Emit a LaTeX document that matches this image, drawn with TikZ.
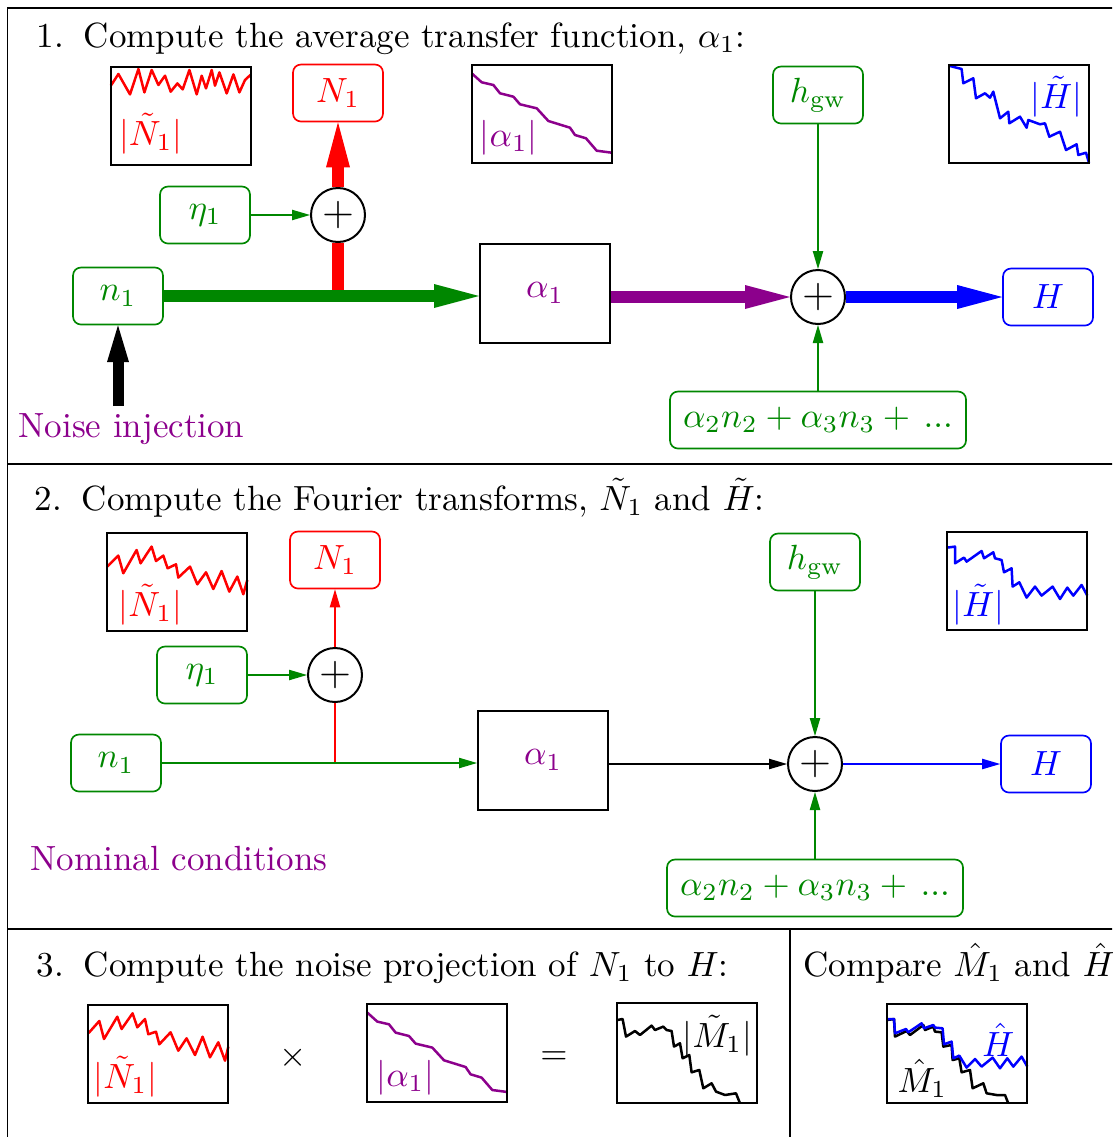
\RequirePackage{fix-cm}
\documentclass[tikz,border=0pt]{standalone}
\usetikzlibrary{arrows.meta}
\definecolor{grn}{RGB}{0,135,0}
\definecolor{pur}{RGB}{140,0,140}
\tikzset{
 every node/.style={font=\fontsize{10.5}{12.6}\selectfont},
 gbox/.style={draw=grn, text=grn, rounded corners=2.4pt, line width=0.5pt, minimum width=27pt, minimum height=17.1pt, inner sep=0pt},
 rbox/.style={gbox, draw=red, text=red},
 bbox/.style={gbox, draw=blue, text=blue},
 widebox/.style={gbox, minimum width=88.8pt},
 sumnode/.style={circle, draw, fill=white, line width=0.6pt, minimum size=16.2pt, inner sep=0pt, font=\fontsize{12.6}{12.6}\selectfont},
 abox/.style={draw, line width=0.6pt, minimum width=39pt, minimum height=29.7pt, text=pur},
 thickarrow/.style={line width=3.6pt, -{Triangle[length=13.5pt,width=7.2pt,line width=0pt]}},
 thickline/.style={line width=3.6pt},
 thinarrow/.style={line width=0.45pt, -{Triangle[length=5.4pt,width=3.2pt,line width=0pt]}},
 frameline/.style={line width=0.6pt},
 plotframe/.style={line width=0.65pt},
 curve/.style={line width=0.75pt, line join=round},
 titletext/.style={anchor=base west, inner sep=0pt},
 plotlabel/.style={anchor=base, inner sep=0pt},
}
\begin{document}
\begin{tikzpicture}[x=0.3pt, y=-0.3pt]
\useasboundingbox (0,0) rectangle (1112,1137);
\clip (0,0) rectangle (1112,1137);
% frame
\draw[frameline] (7.5,1150) -- (7.5,7.5) -- (1130,7.5);
\draw[frameline] (7.5,464) -- (1130,464);
\draw[frameline] (7.5,928.5) -- (1130,928.5);
\draw[frameline] (790,928.5) -- (790,1150);

% ---------- Panel 1 ----------
\node[titletext] (t1) at (36,47) {1.\hspace{6pt}Compute the average transfer function, $\alpha_1$:};

\begin{scope}[shift={(110.7,66.7)}]
\draw[curve, red] (0,19) -- (1,17.7) -- (7.7,7.3) -- (19.3,27.7) -- (27.7,2.3) -- (33.7,25.7) -- (41,3.3) -- (47.7,18.3) -- (54.3,9) -- (60,25) -- (66.7,16.7) -- (72,22.7) -- (78.7,3.3) -- (86,27.7) -- (91,9) -- (95.3,21.7) -- (101,3.3) -- (104.3,19) -- (108.7,5.7) -- (116,26.7) -- (122.7,7.7) -- (128.7,25.7) -- (134.3,13.3) -- (140,8);
\draw[plotframe] (0,0) rectangle (140,98);
\node[plotlabel, text=red] (lN1a) at (40,79) {$|\tilde{N}_1|$};
\end{scope}

\begin{scope}[shift={(471.7,65)}]
\draw[curve, pur] (0,8.3) -- (10,17.3) -- (21.7,20) -- (28.3,28.3) -- (41.7,31.7) -- (48.3,39.3) -- (65,43.3) -- (76.7,56) -- (98.3,62.7) -- (103.3,70) -- (114.3,73.3) -- (125,85.7) -- (140,87.7);
\draw[plotframe] (0,0) rectangle (140,98);
\node[plotlabel, text=pur] (la1a) at (37,81) {$|\alpha_1|$};
\end{scope}

\begin{scope}[shift={(949.3,65)}]
\draw[curve, blue] (0.7,1) -- (12.3,4) -- (14,18.3) -- (24,13.3) -- (26.7,33.3) -- (35.7,28.3) -- (40.7,32.7) -- (44,26.7) -- (50.7,53.3) -- (59,46.7) -- (60,58.3) -- (70.7,51.7) -- (77.3,62.7) -- (79,55) -- (90.7,59.3) -- (95.7,58.3) -- (100,71.7) -- (110.7,66.7) -- (116.7,85) -- (127.3,79.3) -- (129,90) -- (136.7,87.7) -- (139.7,98);
\draw[plotframe] (0,0) rectangle (140,98);
\node[plotlabel, text=blue] (lHa) at (107,43) {$|\tilde{H}|$};
\end{scope}

\node[rbox] (N1a) at (338,93) {$N_1$};
\node[gbox] (hgwa) at (818,95) {$h_{\mathrm{gw}}$};
\node[gbox] (eta1a) at (205,215) {$\eta_1$};
\node[sumnode] (s1a) at (338,215) {$+$};
\node[gbox] (n1a) at (118,296) {$n_1$};
\node[abox] (a1a) at (545,293) {$\alpha_1$};
\node[sumnode] (s2a) at (818,297) {$+$};
\node[bbox] (Ha) at (1048,297) {$H$};
\node[widebox] (resta) at (818,420) {$\alpha_2n_2+\alpha_3n_3+\,...$};
\coordinate (ja) at (338,296);
\coordinate (nia) at (118,406);
\node[titletext, text=pur] (noise) at (18,437) {Noise injection};

\draw[thickline, red] (ja) -- (s1a.south);
\draw[thickarrow, red] (s1a.north) -- (N1a.south);
\draw[thickarrow, grn] (n1a.east) -- (n1a -| a1a.west);
\draw[thickarrow, pur] (s2a -| a1a.east) -- (s2a.west);
\draw[thickarrow, blue] (s2a.east) -- (s2a -| Ha.west);
\draw[line width=3.3pt, -{Triangle[length=11pt,width=6.6pt,line width=0pt]}] (nia) -- (n1a.south);
\draw[thinarrow, grn] (eta1a.east) -- (s1a.west);
\draw[thinarrow, grn] (hgwa.south) -- (s2a.north);
\draw[thinarrow, grn] (resta.north) -- (s2a.south);

% ---------- Panel 2 ----------
\node[titletext] (t2) at (34,510) {2.\hspace{6pt}Compute the Fourier transforms, $\tilde{N}_1$ and $\tilde{H}$:};

\begin{scope}[shift={(107.3,533.3)}]
\draw[curve, red] (0,33.3) -- (11,22.3) -- (16,40) -- (29.3,16.7) -- (33.3,30) -- (44.3,13.3) -- (48.7,27.7) -- (56,22.3) -- (60.3,35) -- (68.7,31) -- (71,44.3) -- (82.7,33.3) -- (90,51) -- (98.7,39) -- (106,55.7) -- (114.3,37.7) -- (122,58.3) -- (130,43.3) -- (136,61) -- (140,46.7);
\draw[plotframe] (0,0) rectangle (140,98);
\node[plotlabel, text=red] (lN1b) at (43,83) {$|\tilde{N}_1|$};
\end{scope}

\begin{scope}[shift={(947.3,532.3)}]
\draw[curve, blue] (0,15.3) -- (7.7,14.3) -- (7.7,31) -- (16.7,25.3) -- (19.3,29.3) -- (34.3,18.7) -- (36.7,26) -- (46,20) -- (47.7,26) -- (54.3,27.7) -- (56.7,40) -- (64.3,36) -- (65.3,54.3) -- (72,50) -- (79.3,65.3) -- (87.7,54.3) -- (94.3,63.3) -- (105.3,54.3) -- (112.7,66.7) -- (120,55.3) -- (126,63.3) -- (134.3,52.7) -- (140,63.3);
\draw[plotframe] (0,0) rectangle (140,98);
\node[plotlabel, text=blue] (lHb) at (31,84) {$|\tilde{H}|$};
\end{scope}

\node[rbox] (N1b) at (335,560) {$N_1$};
\node[gbox] (hgwb) at (815,562) {$h_{\mathrm{gw}}$};
\node[gbox] (eta1b) at (202,675) {$\eta_1$};
\node[sumnode] (s1b) at (335,675) {$+$};
\node[gbox] (n1b) at (116,763) {$n_1$};
\node[abox] (a1b) at (543,760) {$\alpha_1$};
\node[sumnode] (s2b) at (815,764) {$+$};
\node[bbox] (Hb) at (1046,764) {$H$};
\node[widebox] (restb) at (815,888) {$\alpha_2n_2+\alpha_3n_3+\,...$};
\coordinate (jb) at (335,764);
\node[titletext, text=pur] (nominal) at (30,870) {Nominal conditions};

\draw[line width=0.45pt, red] (jb) -- (s1b.south);
\draw[thinarrow, red] (s1b.north) -- (N1b.south);
\draw[thinarrow, grn] (n1b.east) -- (n1b.east -| a1b.west);
\draw[thinarrow, black] (s2b -| a1b.east) -- (s2b.west);
\draw[thinarrow, blue] (s2b.east) -- (s2b -| Hb.west);
\draw[thinarrow, grn] (eta1b.east) -- (s1b.west);
\draw[thinarrow, grn] (hgwb.south) -- (s2b.north);
\draw[thinarrow, grn] (restb.north) -- (s2b.south);

% ---------- Panel 3 ----------
\node[titletext] (t3) at (36,976) {3.\hspace{6pt}Compute the noise projection of $N_1$ to $H$:};
\node[titletext] (t4) at (803,976) {Compare $\hat{M}_1$ and $\hat{H}$};

\begin{scope}[shift={(88.3,1005)}]
\draw[curve, red] (0,28) -- (1,27.3) -- (11,16) -- (15.7,34) -- (29,11.7) -- (33.3,24) -- (44.3,8.3) -- (49,22.3) -- (56.7,14) -- (60,29.3) -- (67.7,26.7) -- (71,39.3) -- (82.3,27.3) -- (90,45.7) -- (98.3,33.3) -- (106.7,50) -- (114.3,31.7) -- (121.7,52.3) -- (130,37.3) -- (136.7,55.7) -- (140,41.7);
\draw[plotframe] (0,0) rectangle (140,98);
\node[plotlabel, text=red] (lN1c) at (37,83) {$|\tilde{N}_1|$};
\end{scope}

\node (times) at (293,1058) {$\times$};

\begin{scope}[shift={(367.3,1004.3)}]
\draw[curve, pur] (0,8.3) -- (10,17.3) -- (21.7,20) -- (28.3,28.3) -- (41.7,31.7) -- (48.3,39.3) -- (65,43.3) -- (76.7,56) -- (98.3,62.7) -- (103.3,70) -- (114.3,73.3) -- (125,85.7) -- (140,87.7);
\draw[plotframe] (0,0) rectangle (140,98);
\node[plotlabel, text=pur] (la1c) at (38,82) {$|\alpha_1|$};
\end{scope}

\node (equals) at (554,1058) {$=$};

\begin{scope}[shift={(617.3,1003.3)}]
\draw[curve, black] (0,16.7) -- (5.3,15.7) -- (8.7,33.3) -- (17.7,27.7) -- (22.7,31.7) -- (34.3,22.3) -- (37.7,26.7) -- (46,23.3) -- (49.3,26.7) -- (54.3,27.7) -- (56.7,43.3) -- (62.7,40) -- (65.3,55) -- (72,51.7) -- (74.3,69) -- (82,66.7) -- (86,85) -- (94.3,80) -- (98.7,88.3) -- (107.7,91.7) -- (118.7,90) -- (122.7,100);
\draw[plotframe] (0,0) rectangle (140,100);
\node[plotlabel, text=black] (lMc) at (100,44) {$|\tilde{M}_1|$};
\end{scope}

\begin{scope}[shift={(887.3,1004.3)}]
\draw[curve, black] (0,15.7) -- (6.7,14.7) -- (7.7,32.3) -- (19.3,26.7) -- (22.7,30.7) -- (36,20.7) -- (37.7,25.7) -- (46,22.3) -- (47.7,27.3) -- (54.3,28) -- (56,42.3) -- (64.3,40.7) -- (65.3,55.7) -- (72,54) -- (74.3,68) -- (82.7,65.7) -- (85.3,84) -- (96,79) -- (99.3,89) -- (109.3,90.7) -- (117.7,90.7) -- (121,99);
\draw[curve, blue] (0,14.7) -- (6.7,14.7) -- (7.7,29) -- (18.7,24.7) -- (21,28) -- (34.3,19) -- (36.7,24) -- (46,20.7) -- (47.7,23.3) -- (55.3,24) -- (56.7,40) -- (64.3,37.3) -- (66,54) -- (72,51.3) -- (79.3,63.3) -- (87.7,54.7) -- (94.3,62.3) -- (105.3,53.3) -- (112.7,64) -- (120,54) -- (126,62.3) -- (134.3,52.3) -- (140,62.3);
\draw[plotframe] (0,0) rectangle (140,99);
\node[plotlabel, text=blue] (lHd) at (111,52) {$\hat{H}$};
\node[plotlabel, text=black] (lMd) at (35,88) {$\hat{M}_1$};
\end{scope}
\end{tikzpicture}
\end{document}
